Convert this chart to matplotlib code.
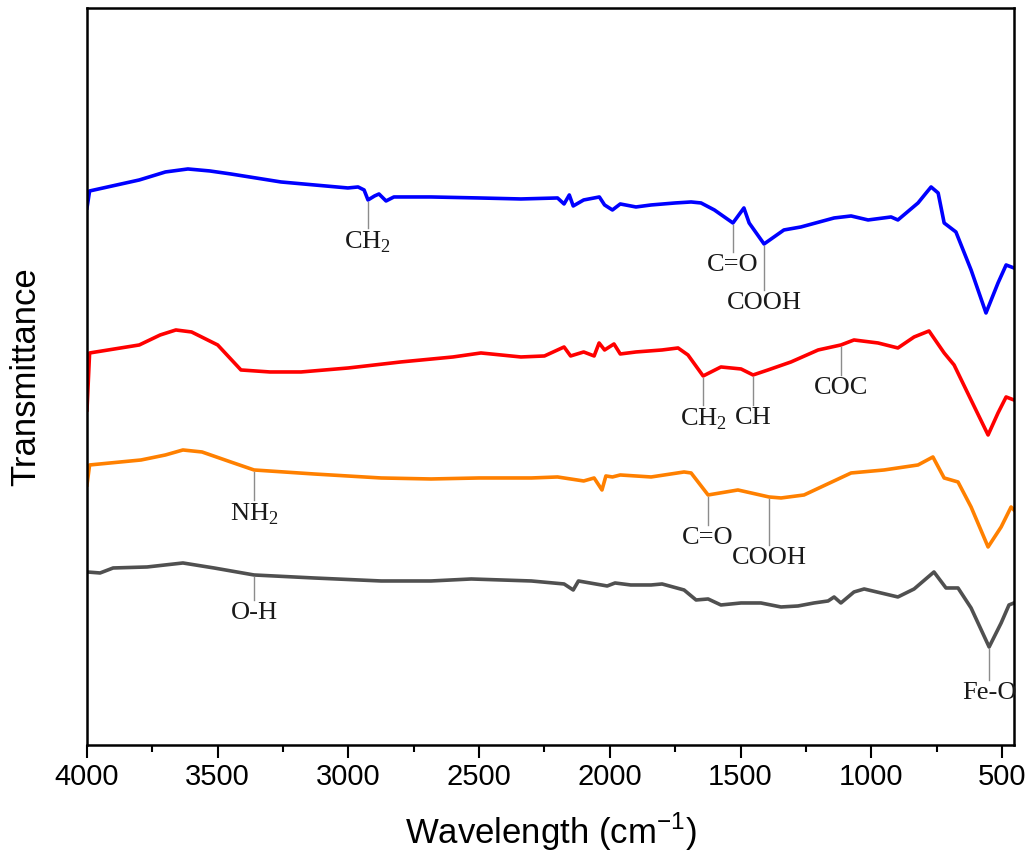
import numpy as np
import matplotlib
matplotlib.use("Agg")
import matplotlib.pyplot as plt

plt.rcParams['font.family'] = ['Liberation Sans', 'DejaVu Sans']
plt.rcParams['mathtext.fontset'] = 'custom'
plt.rcParams['mathtext.rm'] = 'Liberation Serif'
plt.rcParams['mathtext.sf'] = 'Liberation Sans'

# spectra (wavenumber, transmittance in arbitrary offset units)
blue_wn = [4000, 3990, 3800, 3700, 3614, 3530, 3450, 3258, 3002, 2963, 2940, 2925, 2900, 2883, 2856,
           2826, 2684, 2500, 2340, 2200, 2175, 2155, 2140, 2100, 2040, 2020, 1990, 1960, 1900, 1842,
           1750, 1689, 1651, 1600, 1529, 1487, 1467, 1410, 1334, 1269, 1142, 1077, 1012, 924, 898,
           821, 790, 771, 744, 721, 676, 618, 561, 515, 484, 454]
blue_t = [53.7, 55.4, 56.5, 57.3, 57.6, 57.4, 57.1, 56.3, 55.7, 55.8, 55.5, 54.5, 54.9, 55.1, 54.4,
          54.8, 54.8, 54.7, 54.6, 54.7, 54.1, 55.0, 53.9, 54.5, 54.8, 54.0, 53.5, 54.1, 53.8, 54.0,
          54.2, 54.3, 54.2, 53.5, 52.2, 53.7, 52.2, 50.1, 51.5, 51.8, 52.7, 52.9, 52.5, 52.8, 52.5,
          54.2, 55.2, 55.8, 55.2, 52.2, 51.3, 47.5, 43.2, 46.2, 48.0, 47.7]

red_wn = [4000, 3990, 3800, 3720, 3660, 3600, 3500, 3411, 3300, 3181, 3000, 2800, 2600, 2493, 2340,
          2250, 2200, 2175, 2150, 2100, 2060, 2041, 2020, 1984, 1960, 1900, 1800, 1739, 1701, 1643,
          1575, 1498, 1452, 1395, 1307, 1203, 1116, 1066, 974, 898, 836, 779, 721, 683, 620, 553,
          515, 484, 454]
red_t = [33.5, 39.2, 40.0, 41.0, 41.5, 41.3, 40.0, 37.5, 37.3, 37.3, 37.7, 38.3, 38.8, 39.2, 38.8,
         38.9, 39.5, 39.8, 38.9, 39.3, 38.9, 40.2, 39.5, 40.1, 39.1, 39.3, 39.5, 39.7, 39.0, 36.9,
         37.8, 37.6, 37.0, 37.5, 38.3, 39.5, 40.0, 40.5, 40.2, 39.7, 40.8, 41.4, 39.2, 38.0, 34.6, 31.0,
         33.2, 34.8, 34.5]

orange_wn = [4000, 3990, 3793, 3700, 3633, 3560, 3450, 3361, 3132, 2875, 2684, 2500, 2300, 2200, 2150,
             2100, 2060, 2030, 2015, 1990, 1960, 1842, 1716, 1689, 1624, 1510, 1391, 1345, 1257, 1077,
             951, 821, 764, 721, 668, 618, 553, 503, 465, 454]
orange_t = [26.0, 28.0, 28.5, 29.0, 29.5, 29.3, 28.3, 27.5, 27.1, 26.7, 26.6, 26.7, 26.7, 26.8, 26.6,
            26.4, 26.7, 25.5, 26.9, 26.8, 27.0, 26.8, 27.3, 27.2, 25.0, 25.5, 24.8, 24.7, 25.0, 27.2,
            27.5, 28.0, 28.8, 26.7, 26.3, 23.8, 19.8, 21.8, 23.8, 23.5]

gray_wn = [4000, 3950, 3900, 3770, 3633, 3514, 3361, 3132, 2875, 2684, 2530, 2300, 2175, 2140, 2120,
           2010, 1980, 1920, 1842, 1800, 1716, 1670, 1624, 1575, 1498, 1422, 1345, 1280, 1219, 1165,
           1142, 1116, 1066, 1027, 898, 836, 760, 714, 668, 618, 549, 503, 473, 454]
gray_t = [17.3, 17.2, 17.7, 17.8, 18.2, 17.7, 17.0, 16.7, 16.4, 16.4, 16.6, 16.4, 16.1, 15.5, 16.4,
          15.9, 16.2, 16.0, 16.0, 16.1, 15.5, 14.5, 14.6, 14.0, 14.2, 14.2, 13.8, 13.9, 14.2, 14.4,
          14.8, 14.2, 15.3, 15.6, 14.8, 15.6, 17.3, 15.7, 15.7, 13.7, 9.8, 12.2, 14.0, 14.2]

series = [
    (blue_wn, blue_t, '#0000FF'),
    (red_wn, red_t, '#FF0000'),
    (orange_wn, orange_t, '#FF8000'),
    (gray_wn, gray_t, '#505050'),
]

# peak labels: (series index, wavenumber, label, line length)
ann_series = [0, 0, 0, 1, 1, 1, 2, 2, 2, 3, 3]
ann_wn = [2925, 1529, 1410, 1643, 1452, 1116, 3361, 1624, 1391, 3361, 549]
ann_label = ['CH$_2$', 'C=O', 'COOH', 'CH$_2$', 'CH', 'COC', 'NH$_2$', 'C=O', 'COOH', 'O-H', 'Fe-O']
ann_len = [2.8, 2.9, 4.6, 2.9, 3.0, 3.0, 3.0, 3.0, 4.8, 2.5, 3.3]

fig = plt.figure(figsize=(10.27, 8.56), dpi=100)
ax = fig.add_axes([0.0847, 0.1297, 0.9026, 0.861])

for wn, t, c in series:
    ax.plot(wn, t, color=c, lw=2.6, solid_joinstyle='round')

for s, w, lab, ln in zip(ann_series, ann_wn, ann_label, ann_len):
    wn, t, _ = series[s]
    y0 = np.interp(w, wn[::-1], t[::-1])
    ax.plot([w, w], [y0 - 0.2, y0 - ln], color='#8c8c8c', lw=1.0)
    ax.text(w, y0 - ln - 0.2, lab, ha='center', va='top', fontsize=19,
            family=['Liberation Serif', 'DejaVu Serif'], color='#1a1a1a')

ax.set_xlim(4000, 454)
ax.set_ylim(0, 73.7)
ax.set_xticks([4000, 3500, 3000, 2500, 2000, 1500, 1000, 500])
ax.set_xticks(np.arange(3750, 450, -500), minor=True)
ax.set_yticks([])
ax.tick_params(axis='x', which='major', direction='out', length=9, width=1.5, labelsize=21, pad=4)
ax.tick_params(axis='x', which='minor', direction='out', length=5, width=1.5)
for sp in ax.spines.values():
    sp.set_linewidth(1.8)

ax.set_xlabel(r'Wavelength (cm$^{\mathsf{-1}}$)', fontsize=25, labelpad=14)
ax.set_ylabel('Transmittance', fontsize=25, labelpad=32)

fig.savefig('out.png', dpi=100)
